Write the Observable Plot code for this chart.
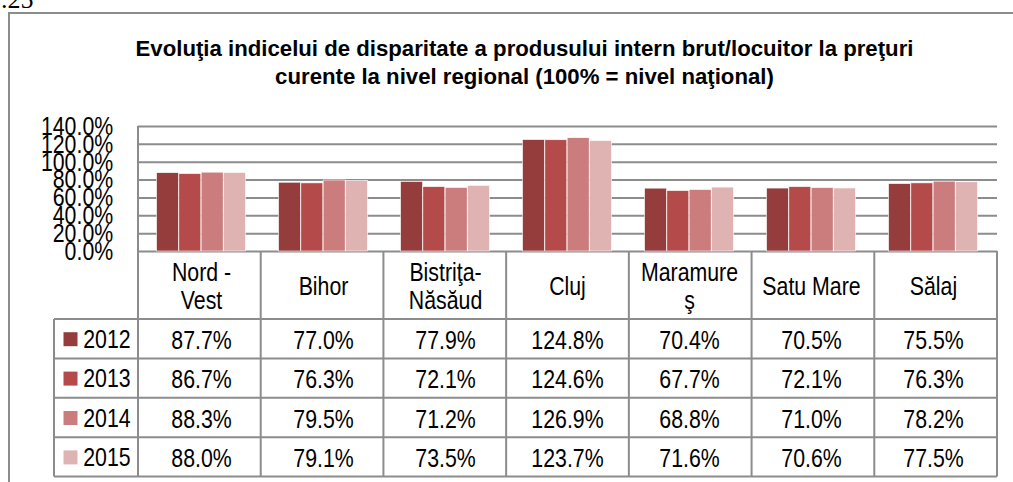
<!DOCTYPE html>
<html><head><meta charset="utf-8">
<script src="https://cdn.jsdelivr.net/npm/d3@7"></script>
<script src="https://cdn.jsdelivr.net/npm/@observablehq/plot@0.6"></script>
<style>
body{margin:0;background:#fff;}
#wrap{position:relative;width:1013px;height:482px;overflow:hidden;background:#fff;font-family:"Liberation Sans",Arial,sans-serif;}
#frame{position:absolute;left:8px;top:12px;width:1010px;height:480px;border-top:2px solid #8c8c8c;border-left:2px solid #8c8c8c;box-sizing:border-box;}
#num{position:absolute;left:1px;top:-13px;font-size:26px;line-height:26px;font-family:"Liberation Serif","Times New Roman",serif;color:#000;}
#title{position:absolute;left:18px;width:1013px;top:35px;text-align:center;font-weight:bold;font-size:22.2px;line-height:28px;color:#000;}
#chart{position:absolute;left:0;top:110px;}
</style>
</head><body>
<div id="wrap">
  <div id="num">.25</div>
  <div id="frame"></div>
  <div id="title">Evoluţia indicelui de disparitate a produsului intern brut/locuitor la preţuri<br>curente la nivel regional (100% = nivel naţional)</div>
  <div id="chart"></div>
</div>
<script>
// ---- data ----
const regions = ["Nord -\nVest", "Bihor", "Bistriţa-\nNăsăud", "Cluj", "Maramure\nş", "Satu Mare", "Sălaj"];
const years = ["2012", "2013", "2014", "2015"];
const v2012 = [87.7, 77.0, 77.9, 124.8, 70.4, 70.5, 75.5];
const v2013 = [86.7, 76.3, 72.1, 124.6, 67.7, 72.1, 76.3];
const v2014 = [88.3, 79.5, 71.2, 126.9, 68.8, 71.0, 78.2];
const v2015 = [88.0, 79.1, 73.5, 123.7, 71.6, 70.6, 77.5];
const series = [v2012, v2013, v2014, v2015];
const yTicks = [0, 20, 40, 60, 80, 100, 120, 140];

// ---- style ----
const colors = ["#953d3d", "#b44a4a", "#cb7c7c", "#e0b3b3"];
const GRID = "#8c8c8c";
const W = 1013, H = 372, ML = 138, MR = 16, MT = 16, MB = 231;
const step = (W - ML - MR) / regions.length;
const barW = 22.3;
const padIn = 1 - barW / step;
const HEADER_H = 68, ROW_H = 39.4;
const NARROW = 0.82;
const fmt = v => v.toFixed(1) + "%";

const marks = [
  Plot.ruleY(yTicks, {y: d => d, stroke: GRID, strokeWidth: 2})
];
years.forEach((yr, k) => {
  const rows = regions.map((r, i) => ({region: r, value: series[k][i], year: yr}));
  marks.push(Plot.barY(rows, {x: "region", y: "value", fill: "year", dx: (k - 1.5) * barW, stroke: "#fff", strokeWidth: 0.6}));
});
marks.push(Plot.text(yTicks, {y: d => d, text: d => d.toFixed(1) + "%", frameAnchor: "left", textAnchor: "end", dx: -25.3, lineAnchor: "middle", fill: "#000"}));
marks.push(Plot.text(regions, {x: d => d, text: d => d, frameAnchor: "bottom", dy: 34.5, lineAnchor: "middle", lineHeight: 1.09, fill: "#000"}));
years.forEach((yr, k) => {
  const cy = HEADER_H + ROW_H * k + ROW_H / 2;
  marks.push(Plot.text(regions.map((r, i) => ({region: r, value: series[k][i]})), {x: "region", text: d => fmt(d.value), frameAnchor: "bottom", dy: cy + 1.5, lineAnchor: "middle", fill: "#000"}));
  marks.push(Plot.text([yr], {text: d => d, frameAnchor: "bottom-left", dx: -55.3, dy: cy + 0.5, textAnchor: "start", lineAnchor: "middle", fill: "#000"}));
  marks.push(Plot.dot([yr], {fill: d => d, frameAnchor: "bottom-left", dx: -68, dy: cy, r: 7.9, symbol: "square"}));
});

const chart = Plot.plot({
  width: W, height: H,
  marginLeft: ML, marginRight: MR, marginTop: MT, marginBottom: MB,
  x: {domain: regions, paddingInner: padIn, paddingOuter: padIn / 2, axis: null},
  y: {domain: [0, 140], axis: null},
  color: {domain: years, range: colors},
  style: {fontFamily: "'Liberation Sans', Arial, sans-serif", fontSize: "26px", color: "#000", background: "transparent", overflow: "visible"},
  marks
});
document.getElementById("chart").appendChild(chart);

// narrow the table / axis text (Arial Narrow look): wrap each text in a group
// that compresses it horizontally about its own anchor point
const svgNS = "http://www.w3.org/2000/svg";
Array.from(chart.querySelectorAll('g[aria-label="text"] text')).forEach(t => {
  const b = t.getBoundingClientRect();
  const anchor = getComputedStyle(t).textAnchor || "start";
  const sx = anchor === "end" ? b.right : anchor === "middle" ? (b.left + b.right) / 2 : b.left;
  const parent = t.parentNode;
  const m = parent.getScreenCTM().inverse();
  const px = sx * m.a + (b.top) * m.c + m.e;
  const w = document.createElementNS(svgNS, "g");
  w.setAttribute("transform", `translate(${px},0) scale(${NARROW},1) translate(${-px},0)`);
  parent.insertBefore(w, t);
  w.appendChild(t);
});

// data table grid, positioned from the plot's own scales
const xs = chart.scale("x"), ys = chart.scale("y");
const [x0, x1] = xs.range;
const yBottom = Math.max(...ys.range), yTop = Math.min(...ys.range);
const n = regions.length;
const colW = (x1 - x0) / n;
const rowTop = yBottom + HEADER_H;
const tableBottom = rowTop + ROW_H * years.length;
const legendLeft = x0 - 84;
const g = d3.select(chart).append("g").attr("stroke", GRID).attr("stroke-width", 2).attr("fill", "none");
g.append("line").attr("x1", x0).attr("x2", x0).attr("y1", yTop).attr("y2", tableBottom);
for (let k = 1; k <= n; k++) {
  const x = x0 + k * colW;
  g.append("line").attr("x1", x).attr("x2", x).attr("y1", yBottom).attr("y2", tableBottom);
}
g.append("line").attr("x1", legendLeft).attr("x2", legendLeft).attr("y1", rowTop).attr("y2", tableBottom);
for (let r = 0; r <= years.length; r++) {
  const y = rowTop + r * ROW_H;
  g.append("line").attr("x1", legendLeft).attr("x2", x1).attr("y1", y).attr("y2", y);
}
</script>
</body></html>
